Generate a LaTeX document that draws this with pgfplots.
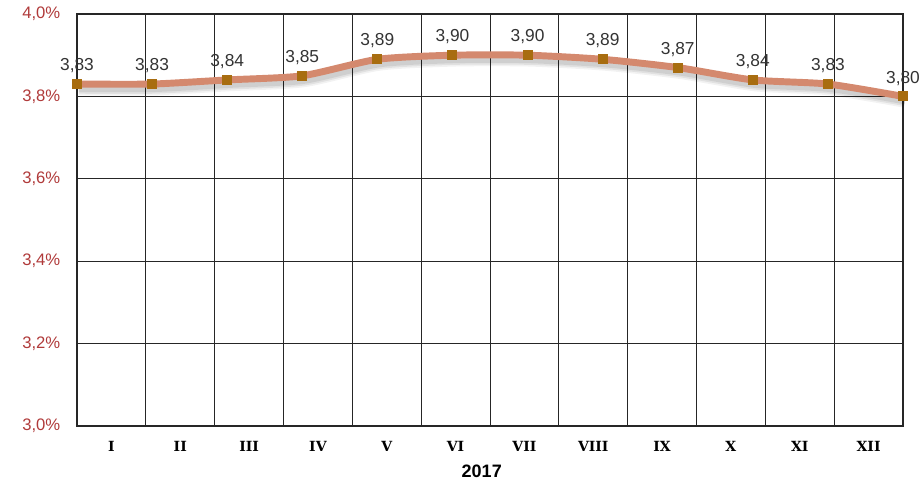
\documentclass[border=0pt]{standalone}
\usepackage{pgfplots}
\pgfplotsset{compat=1.18}
\usepackage{fontspec}
\setmainfont{Liberation Sans}
\newfontfamily\slab{DejaVu Serif}
\definecolor{tickred}{HTML}{B03A3A}
\definecolor{salmon}{HTML}{D4896E}
\definecolor{mark}{HTML}{A86D10}
\pgfplotstableread{
x y lab
0 3.83 3,83
1 3.83 3,83
2 3.84 3,84
3 3.85 3,85
4 3.89 3,89
5 3.90 3,90
6 3.90 3,90
7 3.89 3,89
8 3.87 3,87
9 3.84 3,84
10 3.83 3,83
11 3.80 3,80
}\data
\begin{document}
\begin{tikzpicture}
\useasboundingbox (-57.75pt,-40.5pt) rectangle (635.25pt,319.5pt);
\begin{axis}[
  at={(0,0)}, anchor=south west,
  scale only axis, width=619.5pt, height=309pt,
  xmin=0, xmax=12, ymin=3, ymax=4,
  xtick={0.5,1.5,...,11.5},
  xticklabels={I,II,III,IV,V,VI,VII,VIII,IX,X,XI,XII},
  minor xtick={0,1,...,12},
  xminorgrids,
  ytick={3,3.2,3.4,3.6,3.8,4},
  yticklabels={{3,0\%},{3,2\%},{3,4\%},{3,6\%},{3,8\%},{4,0\%}},
  ymajorgrids,
  major tick length=0pt, minor tick length=0pt,
  grid style={black!85, line width=0.6pt},
  minor grid style={black!85, line width=0.6pt},
  axis line style={black!85, line width=0.8pt},
  xticklabel style={font=\slab\bfseries\fontsize{10.5}{12}\selectfont, yshift=-8pt},
  yticklabel style={font=\fontsize{12.5}{14}\selectfont, text=tickred, xshift=-9pt},
  xlabel={2017},
  xlabel style={at={(axis description cs:0.49,-0.109)}, anchor=center, font=\bfseries\fontsize{13.5}{16}\selectfont},
]
\end{axis}
\begin{axis}[
  at={(0,0)}, anchor=south west,
  scale only axis, width=619.5pt, height=309pt,
  xmin=0, xmax=11, ymin=3, ymax=4,
  hide axis, clip=false,
]
\addplot[black, opacity=0.05, line width=10pt, smooth, tension=0.4, yshift=-3.5pt, xshift=1.5pt, forget plot] table[x=x,y=y] {\data};
\addplot[black, opacity=0.07, line width=7.5pt, smooth, tension=0.4, yshift=-3.5pt, xshift=1.5pt, forget plot] table[x=x,y=y] {\data};
\addplot[black, opacity=0.08, line width=5pt, smooth, tension=0.4, yshift=-3.5pt, xshift=1.5pt, forget plot] table[x=x,y=y] {\data};
\addplot[salmon, line width=5.2pt, smooth, tension=0.4,
  mark=square*, mark size=3.4pt, mark options={fill=mark, draw=mark, line width=0pt},
  point meta=explicit symbolic,
  nodes near coords,
  every node near coord/.append style={font=\fontsize{13}{15}\selectfont, text=black!80, anchor=south, yshift=5pt},
] table[x=x,y=y,meta=lab] {\data};
\end{axis}
\end{tikzpicture}
\end{document}
